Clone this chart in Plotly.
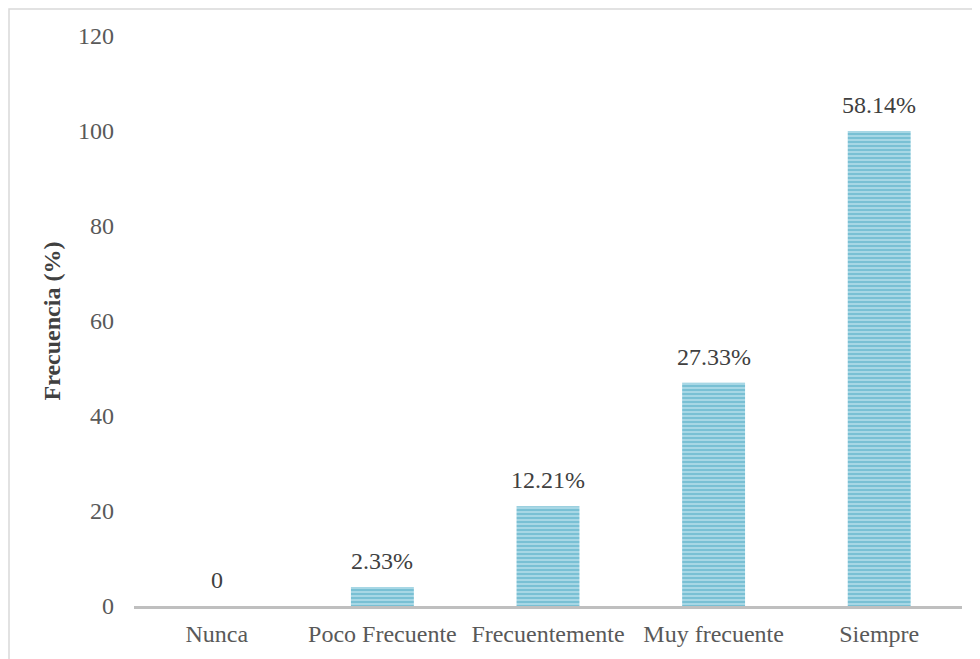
import plotly.graph_objects as go

categories = ["Nunca", "Poco Frecuente", "Frecuentemente", "Muy frecuente", "Siempre"]
values = [0, 4, 21, 47, 100]
labels = ["0", "2.33%", "12.21%", "27.33%", "58.14%"]
y_ticks = [0, 20, 40, 60, 80, 100, 120]

W, H = 980, 659
OFF = 8  # page body offset
L, R, T, B = 134 - OFF, 980 - 962 + OFF, 36 - OFF, 659 - 606 + OFF
pw = W - L - R
ph = H - T - B

fig = go.Figure(go.Bar(
    x=categories, y=values,
    width=0.38,
    marker=dict(
        color="#A8D8E6",
        line=dict(width=0),
        pattern=dict(shape="-", fgcolor="#3FA4C0", bgcolor="#B2DCE9", size=4, solidity=0.6),
    ),
))

annotations = [
    dict(x=c, y=v, text=t, showarrow=False, yanchor="bottom", yshift=11,
         font=dict(family="Liberation Serif", size=24, color="#404040"))
    for c, v, t in zip(categories, values, labels)
]

fig.update_layout(
    width=W, height=H,
    margin=dict(l=L, r=R, t=T, b=B),
    paper_bgcolor="white", plot_bgcolor="white",
    font=dict(family="Liberation Serif", size=24, color="#595959"),
    showlegend=False,
    annotations=annotations,
    xaxis=dict(showline=True, linecolor="#BFBFBF", linewidth=2.5, ticks="",
               ticklabelstandoff=4,
               tickfont=dict(size=24, color="#595959"), showgrid=False),
    yaxis=dict(range=[0, 120], tickvals=y_ticks, showgrid=False, zeroline=False,
               showline=False, ticks="", ticklabelstandoff=19,
               tickfont=dict(size=24, color="#595959"),
               title=dict(text="<b>Frecuencia (%)</b>", standoff=10,
                          font=dict(size=24, color="#404040"))),
    shapes=[dict(type="rect", xref="paper", yref="paper",
                 x0=(1 - L) / pw, x1=(W + 10 - L) / pw,
                 y0=(-(B + 10)) / ph, y1=(ph + T - 1) / ph,
                 line=dict(color="#D9D9D9", width=1.5), fillcolor="rgba(0,0,0,0)",
                 layer="below")],
)

fig.write_html("out.html")
